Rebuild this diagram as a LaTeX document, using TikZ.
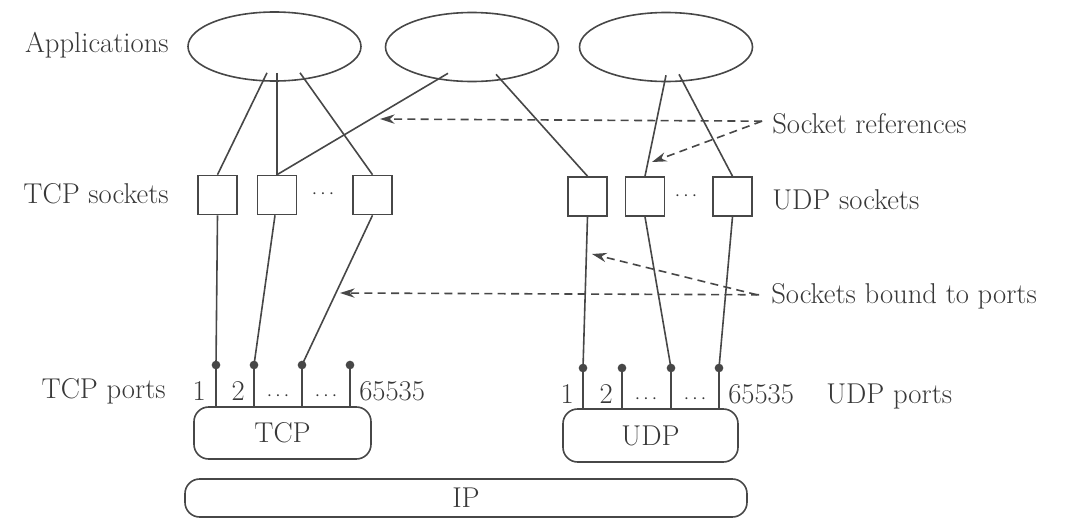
\documentclass[tikz,border=0pt]{standalone}
\usetikzlibrary{arrows.meta,shapes.geometric,calc}
\definecolor{ink}{gray}{0.28}
\definecolor{textink}{gray}{0.22}
\newcommand{\cdotsmall}{{\fontsize{15}{18}\selectfont$\cdots$}}
\begin{document}
\begin{tikzpicture}[x=0.75pt,y=-0.75pt,
  every node/.style={font=\fontsize{21.5}{26}\selectfont, text=textink},
  line/.style={draw=ink, line width=1.2pt},
  app/.style={line, ellipse, minimum width=129.75pt, minimum height=51.75pt, inner sep=0pt},
  sock/.style={line, rectangle, minimum size=29.25pt, inner sep=0pt},
  layer/.style={line, rounded corners=11pt, inner sep=0pt},
  portdot/.style={circle, fill=ink, minimum size=6.5pt, inner sep=0pt},
  lbl/.style={inner sep=0pt},
  ptr/.style={draw=ink, line width=1.2pt, dash pattern=on 6pt off 4pt,
              -{Stealth[length=11pt,width=7pt]}}]
\useasboundingbox (0,0) rectangle (1075,518);

% applications
\node[app] (e1) at (274.5,46.5) {};
\node[app] (e2) at (472,47) {};
\node[app] (e3) at (666,47) {};

% sockets
\node[sock] (t1) at (217.5,195) {};
\node[sock] (t2) at (277,195) {};
\node[sock] (t3) at (372.5,195) {};
\node[lbl] (tdots) at (323,194) {\cdotsmall};
\node[sock] (u1) at (587.5,196.5) {};
\node[sock] (u2) at (645,196.5) {};
\node[sock] (u3) at (732.5,196.5) {};
\node[lbl] (udots) at (686,196) {\cdotsmall};

% transport and network layers
\node[layer, minimum width=132.75pt, minimum height=39pt] (tcp) at (282.5,433) {TCP};
\node[layer, minimum width=131.25pt, minimum height=39.75pt] (udp) at (650.5,435.5) {UDP};
\node[layer, minimum width=421.5pt, minimum height=28.5pt] (ip) at (466,498) {IP};

% ports
\node[portdot] (tp1) at (216,365) {};
\node[portdot] (tp2) at (254,365) {};
\node[portdot] (tp3) at (302,365) {};
\node[portdot] (tp4) at (350,365) {};
\node[portdot] (up1) at (583,368) {};
\node[portdot] (up2) at (622,368) {};
\node[portdot] (up3) at (671,368) {};
\node[portdot] (up4) at (719,368) {};
\foreach \p in {tp1,tp2,tp3,tp4} \draw[line] (\p.center) -- (\p |- tcp.north);
\foreach \p in {up1,up2,up3,up4} \draw[line] (\p.center) -- (\p |- udp.north);

% port numbers
\node[lbl, anchor=base east] (tn1) at (206,400) {1};
\node[lbl, anchor=base east] (tn2) at (245,400) {2};
\node[lbl, anchor=base] (tn3) at (278,400) {\cdotsmall};
\node[lbl, anchor=base] (tn4) at (326,400) {\cdotsmall};
\node[lbl, anchor=base west] (tn5) at (359,400) {65535};
\node[lbl, anchor=base east] (un1) at (574,403) {1};
\node[lbl, anchor=base east] (un2) at (613,403) {2};
\node[lbl, anchor=base] (un3) at (646,403) {\cdotsmall};
\node[lbl, anchor=base] (un4) at (695,403) {\cdotsmall};
\node[lbl, anchor=base west] (un5) at (728,403) {65535};

% applications to sockets
\draw[line] ($(e1.south)+(-7.5,-9)$) -- (t1.north);
\draw[line] ($(e1.south)+(2.5,-9)$) -- (t2.north);
\draw[line] ($(e1.south)+(25.5,-9)$) -- (t3.north);
\draw[line] ($(e2.south)+(-24,-9)$) -- (t2.north);
\draw[line] ($(e2.south)+(24,-8)$) -- (u1.north);
\draw[line] ($(e3.south)+(0,-7)$) -- (u2.north);
\draw[line] ($(e3.south)+(13,-8)$) -- (u3.north);

% sockets to ports
\draw[line] (t1.south) -- (tp1.center);
\draw[line] ($(t2.south)+(-2,0)$) -- (tp2.center);
\draw[line] (t3.south) -- (tp3.center);
\draw[line] (u1.south) -- (up1.center);
\draw[line] (u2.south) -- (up3.center);
\draw[line] (u3.south) -- (up4.center);

% side labels
\node[lbl, anchor=base east] (lapp) at (169,52) {Applications};
\node[lbl, anchor=base east] (ltcps) at (169,203) {TCP sockets};
\node[lbl, anchor=base east] (ltcpp) at (166,398) {TCP ports};
\node[lbl, anchor=base west] (ludps) at (772,209) {UDP sockets};
\node[lbl, anchor=base west] (ludpp) at (826,403) {UDP ports};
\node[lbl, anchor=base west] (lref) at (772,133) {Socket references};
\node[lbl, anchor=base west] (lbound) at (771,303) {Sockets bound to ports};

% pointers
\coordinate (ref1) at (380,119);
\coordinate (ref2) at (652,162);
\coordinate (bnd1) at (340,293);
\coordinate (bnd2) at (592,254);
\draw[ptr] ($(lref.west)+(-10,-2)$) -- (ref1);
\draw[ptr] ($(lref.west)+(-10,-2)$) -- (ref2);
\draw[ptr] ($(lbound.west)+(-12,-1)$) -- (bnd1);
\draw[ptr] ($(lbound.west)+(-14,-1)$) -- (bnd2);
\end{tikzpicture}
\end{document}
